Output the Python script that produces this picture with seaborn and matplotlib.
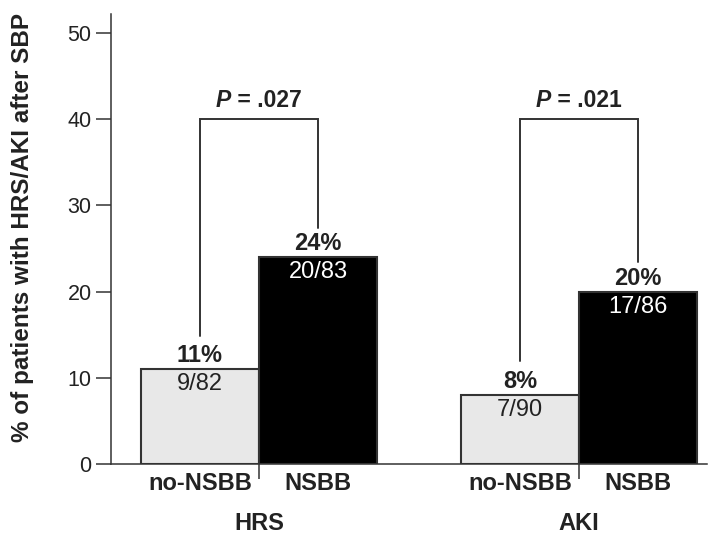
import matplotlib
matplotlib.use("Agg")
import matplotlib.pyplot as plt
import matplotlib.transforms as mtransforms
from matplotlib.offsetbox import TextArea, HPacker, AnnotationBbox
import seaborn as sns
import pandas as pd

# Outcomes and treatment groups
outcomes = ["HRS", "AKI"]
treatments = ["no-NSBB", "NSBB"]

# Percentage of patients with the outcome, per treatment group
hrs_pct = [11, 24]
aki_pct = [8, 20]

# Event counts / group size
hrs_counts = ["9/82", "20/83"]
aki_counts = ["7/90", "17/86"]

# Between-group P values
p_values = [".027", ".021"]

y_ticks = [0, 10, 20, 30, 40, 50]

df = pd.DataFrame({
    "outcome": [o for o in outcomes for _ in treatments],
    "treatment": treatments * len(outcomes),
    "pct": hrs_pct + aki_pct,
    "count": hrs_counts + aki_counts,
})

sns.set_theme(style="ticks")
plt.rcParams["font.family"] = ["Liberation Sans", "DejaVu Sans"]

ink = "#222222"
line = "#333333"

fig = plt.figure(figsize=(7.08, 5.36), dpi=100)
ax = fig.add_axes([111 / 708, 72 / 536, 596 / 708, 450 / 536])

sns.barplot(
    data=df, x="outcome", y="pct", hue="treatment",
    order=outcomes, hue_order=treatments,
    palette={"no-NSBB": "#e8e8e8", "NSBB": "#000000"},
    width=0.7375, edgecolor=line, linewidth=1.5,
    legend=False, ax=ax,
)

ax.set_xlim(-0.4625, 1.40)
ax.set_ylim(0, 52.2)
ax.set_yticks(y_ticks)
ax.set_yticklabels([str(t) for t in y_ticks], fontsize=15.5, color=ink)
ax.set_xticks([0, 1])
ax.set_xticklabels([])
ax.tick_params(axis="both", direction="out", length=11, width=1.1,
               color=line, pad=3)
ax.set_xlabel("")
ax.set_ylabel("")
for side in ("top", "right"):
    ax.spines[side].set_visible(False)
for side in ("left", "bottom"):
    ax.spines[side].set_color(line)
    ax.spines[side].set_linewidth(1.1)

# Bars in left-to-right order
bars = sorted([p for p in ax.patches if p.get_width() > 0],
              key=lambda p: p.get_x())
labels_df = df.set_index(["outcome", "treatment"]).loc[
    [(o, t) for o in outcomes for t in treatments]].reset_index()

centers = []
for bar, (_, row) in zip(bars, labels_df.iterrows()):
    cx = bar.get_x() + bar.get_width() / 2
    h = row["pct"]
    centers.append((cx, h))
    ax.text(cx, h + 0.2, f"{h}%", ha="center", va="bottom",
            fontsize=17, fontweight="bold", color=ink)
    ax.text(cx, h - 0.5, row["count"], ha="center", va="top",
            fontsize=17, color="white" if row["treatment"] == "NSBB" else ink)

# Bracket and P value above each outcome pair
bracket_top = 40
for i, p in enumerate(p_values):
    (x0, h0), (x1, h1) = centers[2 * i], centers[2 * i + 1]
    ax.plot([x0, x0, x1, x1], [h0 + 3.9, bracket_top, bracket_top, h1 + 3.4],
            color=line, linewidth=1.4, solid_joinstyle="miter")
    label = HPacker(children=[
        TextArea("P", textprops=dict(fontsize=16.5, fontweight="bold",
                                     fontstyle="italic", color=ink)),
        TextArea(" = " + p, textprops=dict(fontsize=16.5, fontweight="bold",
                                           color=ink)),
    ], pad=0, sep=0, align="baseline")
    ab = AnnotationBbox(label, ((x0 + x1) / 2, bracket_top + 0.8),
                        box_alignment=(0.5, 0), frameon=False, pad=0)
    ax.add_artist(ab)

# Treatment labels under each bar and outcome labels under each pair
trans = mtransforms.blended_transform_factory(ax.transData, fig.transFigure)
for (cx, _), (_, row) in zip(centers, labels_df.iterrows()):
    ax.text(cx, 1 - 483 / 536, row["treatment"], transform=trans,
            ha="center", va="center", fontsize=17, fontweight="bold",
            color=ink)
for i, o in enumerate(outcomes):
    ax.text(i, 1 - 523 / 536, o, transform=trans, ha="center", va="center",
            fontsize=17, fontweight="bold", color=ink)

fig.text(23 / 708, 1 - 227 / 536, "% of patients with HRS/AKI after SBP",
         rotation=90, ha="center", va="center", fontsize=17.5,
         fontweight="bold", color=ink)

fig.savefig("out.png", dpi=100, facecolor="white")
